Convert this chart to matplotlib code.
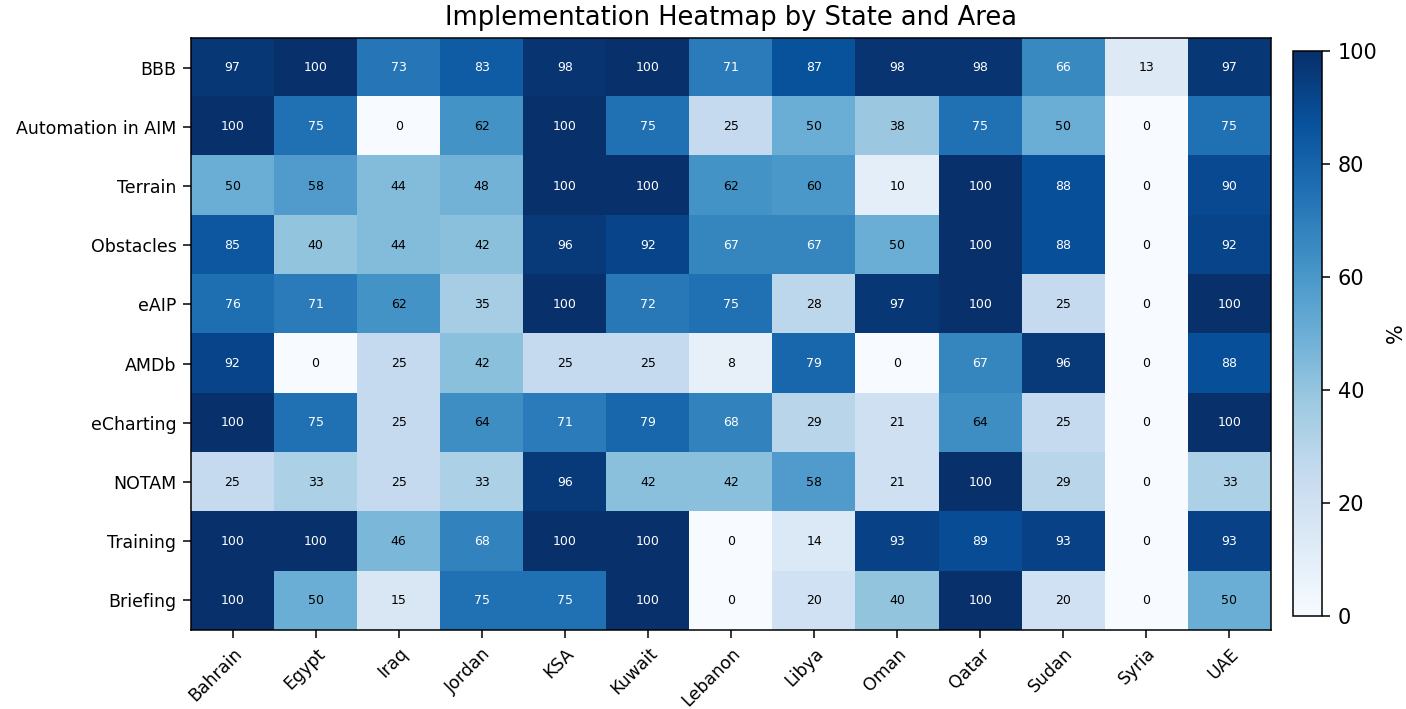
import numpy as np
import matplotlib
matplotlib.use("Agg")
import matplotlib.pyplot as plt

states = ["Bahrain", "Egypt", "Iraq", "Jordan", "KSA", "Kuwait", "Lebanon",
          "Libya", "Oman", "Qatar", "Sudan", "Syria", "UAE"]
areas = ["BBB", "Automation in AIM", "Terrain", "Obstacles", "eAIP", "AMDb",
         "eCharting", "NOTAM", "Training", "Briefing"]

bbb = [97, 100, 73, 83, 98, 100, 71, 87, 98, 98, 66, 13, 97]
automation = [100, 75, 0, 62, 100, 75, 25, 50, 38, 75, 50, 0, 75]
terrain = [50, 58, 44, 48, 100, 100, 62, 60, 10, 100, 88, 0, 90]
obstacles = [85, 40, 44, 42, 96, 92, 67, 67, 50, 100, 88, 0, 92]
eaip = [76, 71, 62, 35, 100, 72, 75, 28, 97, 100, 25, 0, 100]
amdb = [92, 0, 25, 42, 25, 25, 8, 79, 0, 67, 96, 0, 88]
echarting = [100, 75, 25, 64, 71, 79, 68, 29, 21, 64, 25, 0, 100]
notam = [25, 33, 25, 33, 96, 42, 42, 58, 21, 100, 29, 0, 33]
training = [100, 100, 46, 68, 100, 100, 0, 14, 93, 89, 93, 0, 93]
briefing = [100, 50, 15, 75, 75, 100, 0, 20, 40, 100, 20, 0, 50]

data = np.array([bbb, automation, terrain, obstacles, eaip, amdb,
                 echarting, notam, training, briefing])

W, H = 1406, 709
fig = plt.figure(figsize=(W / 100, H / 100), dpi=100)
ax = fig.add_axes([191/W, 1 - 630/H, 1080/W, 592/H])
cax = fig.add_axes([1293/W, 1 - 616/H, 29/W, 565/H])

im = ax.imshow(data, cmap="Blues", vmin=0, vmax=100, aspect="auto")

ax.set_xticks(np.arange(len(states)))
ax.set_xticklabels(states, rotation=45, ha="right", rotation_mode="anchor",
                   fontsize=12.5)
ax.set_yticks(np.arange(len(areas)))
ax.set_yticklabels(areas, fontsize=12.5)
ax.tick_params(length=5.5, width=1.1, pad=5)
for s in ax.spines.values():
    s.set_linewidth(1.1)
ax.set_title("Implementation Heatmap by State and Area", fontsize=18.5, pad=9)

# annotate cells
for i in range(data.shape[0]):
    for j in range(data.shape[1]):
        v = data[i, j]
        color = "white" if v > 65 else "black"
        ax.text(j, i, f"{v}", ha="center", va="center", color=color, fontsize=9)

cb = fig.colorbar(im, cax=cax)
cb.set_ticks([0, 20, 40, 60, 80, 100])
cb.ax.tick_params(labelsize=15, length=5.5, width=1.1, pad=6)
cb.outline.set_linewidth(1.1)
cb.set_label("%", fontsize=15, labelpad=6)

fig.savefig("out.png", dpi=100)
